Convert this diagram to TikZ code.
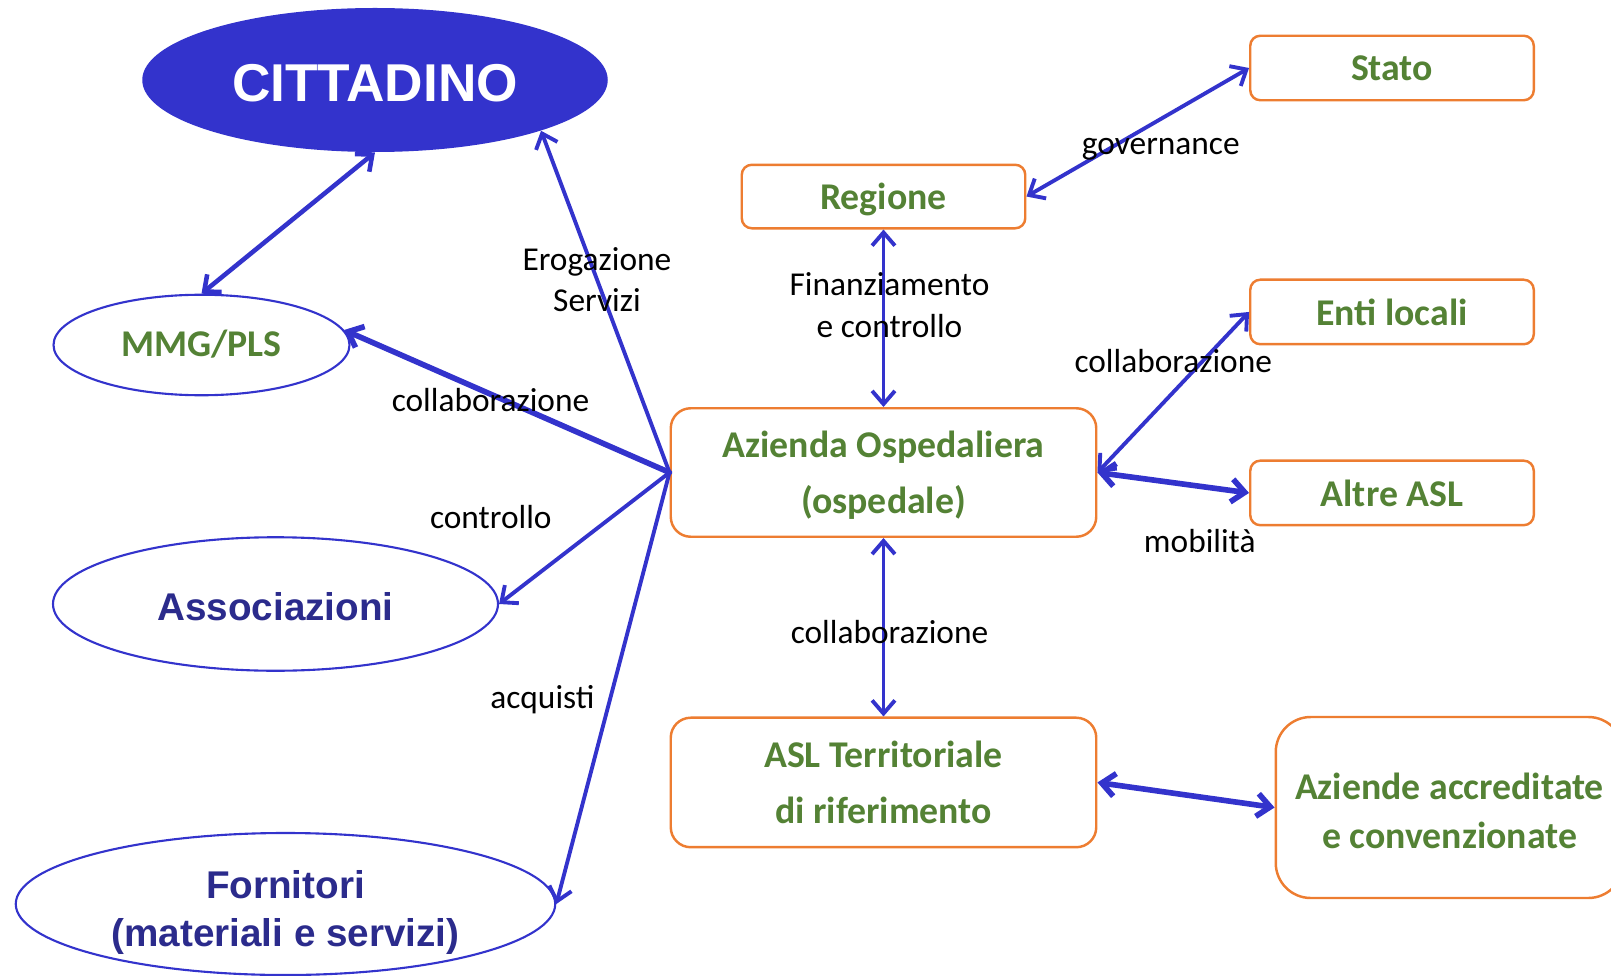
\documentclass[tikz,border=0pt]{standalone}
\usepackage{fontspec}
\setmainfont{Carlito}
\newfontfamily\arialfont{Liberation Sans}
\usetikzlibrary{shapes.geometric,arrows.meta,positioning}
\definecolor{linkblue}{RGB}{51,51,204}
\definecolor{navyblue}{RGB}{43,43,140}
\definecolor{leafgreen}{RGB}{84,130,53}
\definecolor{boxorange}{RGB}{237,125,49}
% lower a line of text without changing its box
\newcommand{\dropline}[2][1.75pt]{\raisebox{-#1}[\height][\depth]{#2}}

\begin{document}
\begin{tikzpicture}[>={Straight Barb[length=7.5pt,width=13pt]},
  box/.style={draw=boxorange,line width=1.4pt,rounded corners=0.2cm,
    text=leafgreen,font=\bfseries\fontsize{21.5}{31.6}\selectfont,
    align=center,inner sep=0pt,text depth=0pt},
  oval/.style={ellipse,draw=linkblue,line width=1.2pt,inner sep=0pt,
    align=center,text=navyblue,font=\arialfont\bfseries\fontsize{22}{27}\selectfont},
  link/.style={linkblue,line width=2.2pt,line cap=round},
  thicklink/.style={linkblue,line width=3.2pt,line cap=round},
  lbl/.style={text=black,font=\fontsize{19}{23.4}\selectfont,align=center}]
\useasboundingbox (0,0) rectangle (32.22,19.5);

% cittadino and left side
\node[ellipse,fill=linkblue,minimum width=9.31cm,minimum height=2.88cm,inner sep=0pt,
  text=white,font=\arialfont\bfseries\fontsize{30.3}{36}\selectfont]
  (cit) at (7.50,17.90) {\dropline{CITTADINO}};
\node[oval,minimum width=5.92cm,minimum height=2.01cm,text=leafgreen,text depth=0.07cm,
  font=\bfseries\fontsize{21.5}{26}\selectfont] (mmg) at (4.03,12.60) {MMG/PLS};
\node[oval,minimum width=8.90cm,minimum height=2.67cm] (asso) at (5.51,7.42)
  {\dropline{Associazioni}};
\node[oval,minimum width=10.79cm,minimum height=2.84cm,text depth=0pt] (forn) at (5.71,1.42)
  {\dropline[2.6pt]{Fornitori}\\\dropline[2.6pt]{(materiali e servizi)}};

% aziende
\node[box,rounded corners=0.4cm,minimum width=8.51cm,minimum height=2.57cm]
  (az) at (17.67,10.05) {Azienda Ospedaliera\\(ospedale)};
\node[box,minimum width=5.67cm,minimum height=1.27cm,above=3.55cm of az] (reg) {Regione};
\node[box,rounded corners=0.4cm,minimum width=8.51cm,minimum height=2.59cm,below=3.57cm of az]
  (asl) {ASL Territoriale\\di riferimento};
\node[box,minimum width=5.67cm,minimum height=1.29cm] (stato) at (27.84,18.14) {Stato};
\node[box,minimum width=5.67cm,minimum height=1.29cm,below=3.54cm of stato] (enti) {Enti locali};
\node[box,minimum width=5.67cm,minimum height=1.29cm,below=2.28cm of enti] (altre) {Altre ASL};
\node[box,rounded corners=0.7cm,minimum width=6.95cm,minimum height=3.62cm,
  font=\bfseries\fontsize{21.5}{27.5}\selectfont]
  (accr) at (28.99,3.35) {\dropline{Aziende accreditate}\\\dropline{e convenzionate}};

% collegamenti
\draw[link,line width=2.6pt,<->] (cit.south) -- (mmg.north);
\draw[link,->] (az.west) -- (cit.-17)
  node[lbl,pos=.565] (lerog) {Erogazione\\Servizi};
\draw[thicklink,->] (az.west) -- (mmg.6)
  node[lbl,pos=.55,yshift=-0.12cm] (lcolmmg) {collaborazione};
\draw[link,->] (az.west) -- (asso.east)
  node[lbl,pos=.5,xshift=-1.87cm,yshift=0.43cm] (lctrl) {controllo};
\draw[link,->] (az.west) -- (forn.east)
  node[lbl,pos=.5,xshift=-1.41cm,yshift=-0.22cm] (lacq) {acquisti};
\draw[link,<->] (reg.east) -- (stato.west)
  node[lbl,pos=.5,xshift=0.46cm,yshift=-0.34cm] (lgov) {governance};
\draw[link,<->] (reg.south) -- (az.north)
  node[lbl,pos=.426,xshift=0.12cm] (lfin) {Finanziamento\\e controllo};
\draw[link,<->] (az.east) -- (enti.west)
  node[lbl,pos=.5,yshift=0.62cm] (lcolenti) {collaborazione};
\draw[thicklink,<->] (az.east) -- (altre.west)
  node[lbl,pos=.5,xshift=0.53cm,yshift=-1.16cm] (lmob) {mobilità};
\draw[link,<->] (az.south) -- (asl.north)
  node[lbl,pos=.526,xshift=0.12cm] (lcolasl) {collaborazione};
\draw[thicklink,<->] (asl.east) -- (accr.west);
\end{tikzpicture}
\end{document}
